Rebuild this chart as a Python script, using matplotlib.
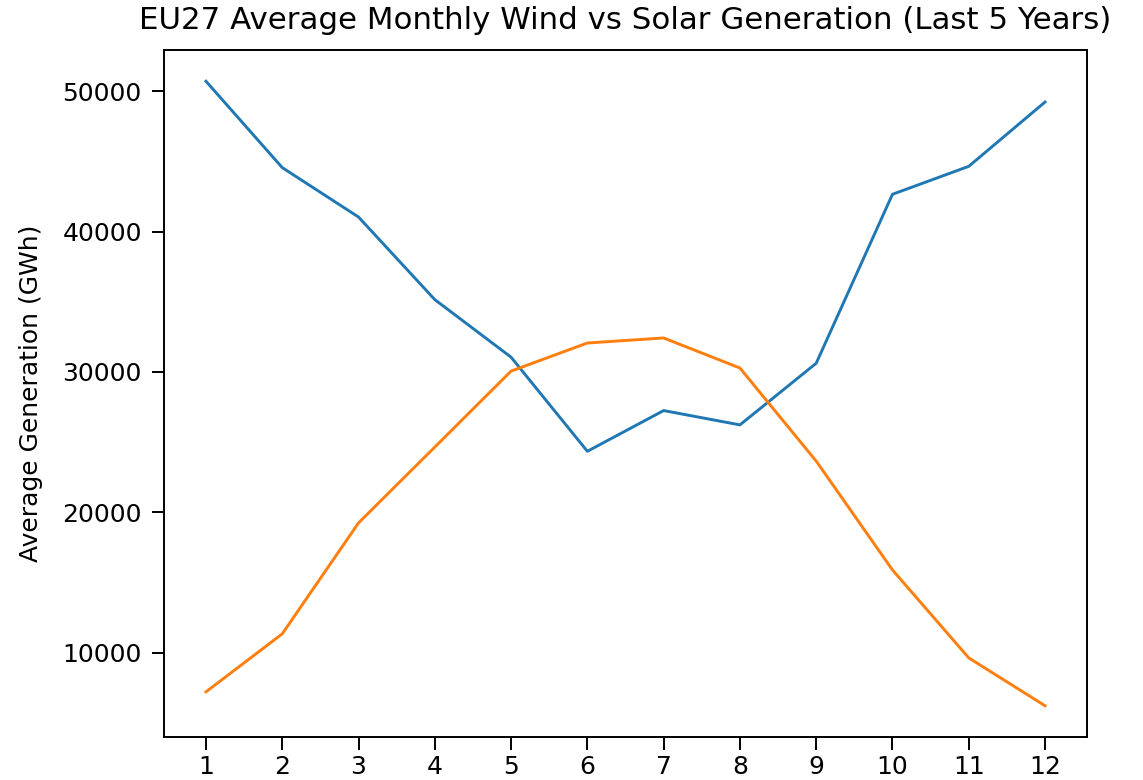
import matplotlib
matplotlib.use("Agg")
import matplotlib.pyplot as plt

months = [1, 2, 3, 4, 5, 6, 7, 8, 9, 10, 11, 12]
wind = [50700, 44550, 41030, 35150, 31050, 24350, 27250, 26230, 30620, 42650, 44640, 49220]
solar = [7220, 11350, 19250, 24650, 30060, 32060, 32420, 30280, 23650, 15900, 9640, 6230]

plt.rcParams['font.family'] = ['DejaVu Sans']
fig = plt.figure(figsize=(11.43, 7.8), dpi=100)
ax = fig.add_axes([164/1143, 1-737/780, (1087-164)/1143, (737-50)/780])

ax.plot(months, wind, color='#1f77b4', linewidth=2.1)
ax.plot(months, solar, color='#ff7f0e', linewidth=2.1)

ax.set_xticks(months)
ax.set_xticklabels([str(m) for m in months])
ax.tick_params(labelsize=18, length=9, width=1.4, pad=7)
ax.tick_params(axis='x', pad=4)
for s in ax.spines.values():
    s.set_linewidth(1.4)
ax.set_ylabel('Average Generation (GWh)', fontsize=18, labelpad=14)
ax.set_title('EU27 Average Monthly Wind vs Solar Generation (Last 5 Years)', fontsize=22.2, pad=15)

fig.savefig('out.png', dpi=100)
